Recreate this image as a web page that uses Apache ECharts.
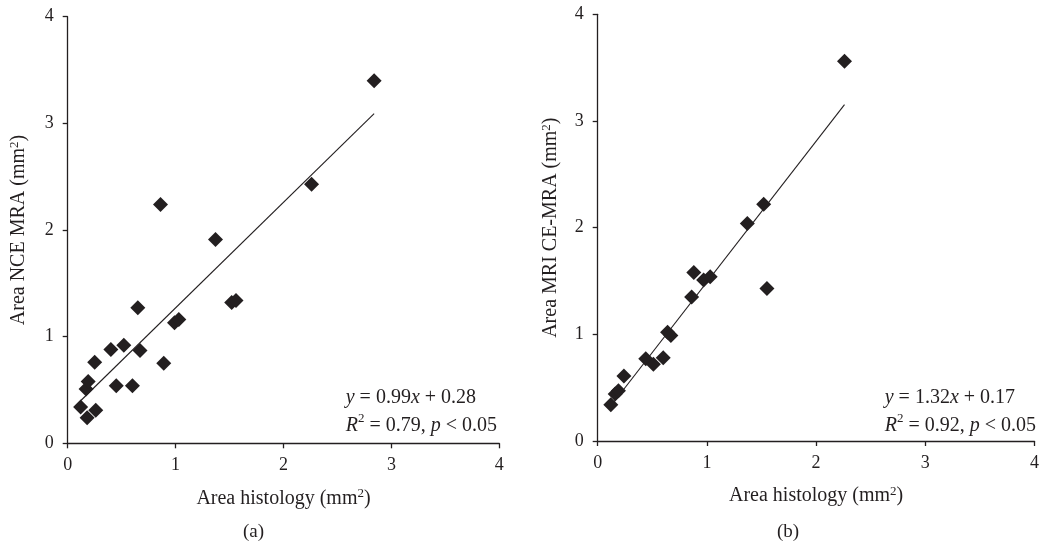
<!DOCTYPE html>
<html>
<head>
<meta charset="utf-8">
<script src="https://cdn.jsdelivr.net/npm/echarts@6/dist/echarts.min.js"></script>
<style>
  html, body { margin: 0; padding: 0; background: #ffffff; }
  #chart { width: 1042px; height: 550px; }
</style>
</head>
<body>
<div id="chart"></div>
<script>
// Panel (a): histology area vs NCE MRA area (mm²)
const histologyA = [0.12, 0.18, 0.17, 0.19, 0.25, 0.26, 0.40, 0.45, 0.52, 0.60, 0.65, 0.67, 0.86, 0.89, 0.99, 1.03, 1.37, 1.52, 1.56, 2.26, 2.84];
const nceMra     = [0.34, 0.24, 0.51, 0.58, 0.76, 0.31, 0.88, 0.54, 0.92, 0.54, 1.27, 0.87, 2.24, 0.75, 1.13, 1.16, 1.91, 1.32, 1.34, 2.43, 3.40];
const fitA = { slope: 0.99, intercept: 0.28, r2: '0.79' };

// Panel (b): histology area vs MRI CE-MRA area (mm²)
const histologyB = [0.12, 0.16, 0.19, 0.24, 0.44, 0.51, 0.60, 0.64, 0.67, 0.86, 0.88, 0.97, 1.03, 1.37, 1.52, 1.55, 2.26];
const ceMra      = [0.34, 0.44, 0.47, 0.61, 0.77, 0.72, 0.78, 1.02, 0.99, 1.35, 1.58, 1.51, 1.54, 2.04, 2.22, 1.43, 3.56];
const fitB = { slope: 1.32, intercept: 0.17, r2: '0.92' };

const axisTicks = [0, 1, 2, 3, 4];

const INK = '#231f20';
const FONT = '"Liberation Serif", "DejaVu Serif", serif';

const pairs = (xs, ys) => xs.map((x, i) => [x, ys[i]]);
const fitLine = (xs, fit) => {
  const lo = Math.min(...xs), hi = Math.max(...xs);
  return [[lo, fit.slope * lo + fit.intercept], [hi, fit.slope * hi + fit.intercept]];
};

// superscript: a short line box pinned to the top of the line raises the glyph
const nameRich = {
  n: { fontFamily: FONT, fontSize: 20, color: INK, lineHeight: 22 },
  sup: { fontFamily: FONT, fontSize: 13, color: INK, verticalAlign: 'top', lineHeight: 9 }
};

function makeXAxis(gridIndex) {
  return {
    gridIndex, type: 'value',
    min: axisTicks[0], max: axisTicks[axisTicks.length - 1], interval: 1,
    name: '{n|Area histology (mm}{sup|2}{n|)}',
    nameLocation: 'middle', nameGap: 44,
    nameTextStyle: { fontFamily: FONT, fontSize: 20, color: INK, rich: nameRich },
    axisLine: { show: true, onZero: false, lineStyle: { color: INK, width: 1.3 } },
    axisTick: { show: true, length: 5, lineStyle: { color: INK, width: 1.3 } },
    axisLabel: { margin: 13, fontFamily: FONT, fontSize: 18, color: INK },
    splitLine: { show: false }
  };
}

function makeYAxis(gridIndex, title, gap) {
  return {
    gridIndex, type: 'value',
    min: axisTicks[0], max: axisTicks[axisTicks.length - 1], interval: 1,
    name: title,
    nameLocation: 'middle', nameGap: gap, nameRotate: 90,
    nameTextStyle: { fontFamily: FONT, fontSize: 20, color: INK, rich: nameRich },
    axisLine: { show: true, onZero: false, lineStyle: { color: INK, width: 1.3 } },
    axisTick: { show: true, length: 5, lineStyle: { color: INK, width: 1.3 } },
    axisLabel: { margin: 14, fontFamily: FONT, fontSize: 18, color: INK },
    splitLine: { show: false }
  };
}

function scatterSeries(idx, data) {
  return {
    type: 'scatter', xAxisIndex: idx, yAxisIndex: idx,
    data, symbol: 'diamond', symbolSize: 15,
    itemStyle: { color: INK, opacity: 1 }, z: 3
  };
}

function lineSeries(idx, data) {
  return {
    type: 'line', xAxisIndex: idx, yAxisIndex: idx,
    data, symbol: 'none', silent: true,
    lineStyle: { color: INK, width: 1.1 }, z: 2
  };
}

const eqRich = {
  n: { fontFamily: FONT, fontSize: 20, color: INK, lineHeight: 28 },
  i: { fontFamily: FONT, fontSize: 20, color: INK, fontStyle: 'italic', lineHeight: 28 },
  sup: { fontFamily: FONT, fontSize: 13, color: INK, verticalAlign: 'top', lineHeight: 15 }
};

function equation(right, top, fit) {
  return {
    type: 'text', right, top,
    style: {
      text: '{i|y}{n| = ' + fit.slope.toFixed(2) + '}{i|x}{n| + ' + fit.intercept.toFixed(2) + '}\n' +
            '{i|R}{sup|2}{n| = ' + fit.r2 + ', }{i|p}{n| < 0.05}',
      rich: eqRich, align: 'right',
      fill: INK
    }
  };
}

function panelLabel(left, text) {
  return {
    type: 'text', left, top: 523,
    style: { text, fontFamily: FONT, fontSize: 19, fill: INK, align: 'center' }
  };
}

const chart = echarts.init(document.getElementById('chart'), null, { renderer: 'canvas' });
chart.setOption({
  animation: false,
  backgroundColor: '#ffffff',
  grid: [
    { left: 67.7, right: 542.7, top: 16.7, bottom: 106.7 },
    { left: 597.7, right: 6, top: 14.3, bottom: 109 }
  ],
  xAxis: [makeXAxis(0), makeXAxis(1)],
  yAxis: [
    makeYAxis(0, '{n|Area NCE MRA (mm}{sup|2}{n|)}', 38),
    makeYAxis(1, '{n|Area MRI CE-MRA (mm}{sup|2}{n|)}', 36)
  ],
  series: [
    lineSeries(0, fitLine(histologyA, fitA)),
    scatterSeries(0, pairs(histologyA, nceMra)),
    lineSeries(1, fitLine(histologyB, fitB)),
    scatterSeries(1, pairs(histologyB, ceMra))
  ],
  graphic: [
    equation(545, 388, fitA),
    equation(6, 388, fitB),
    panelLabel(243, '(a)'),
    panelLabel(777, '(b)')
  ]
});
</script>
</body>
</html>
